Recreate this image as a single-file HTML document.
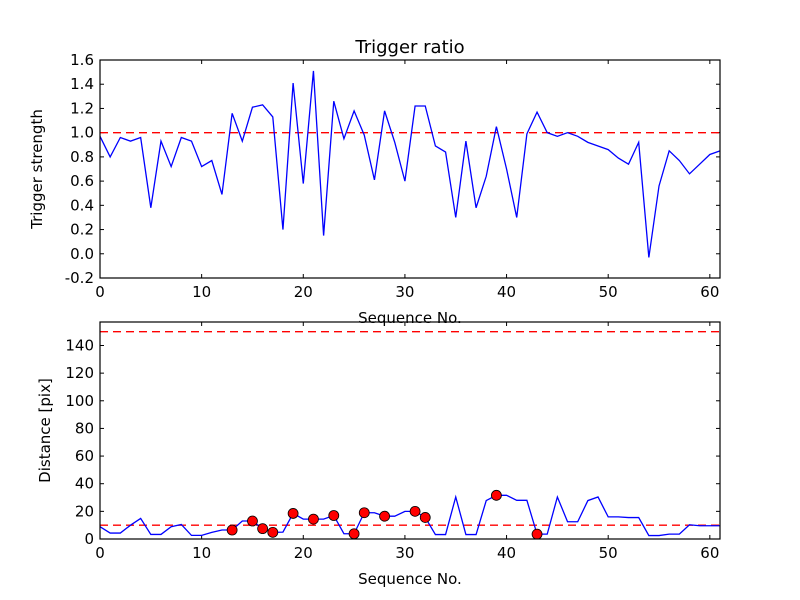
<!DOCTYPE html>
<html><head><meta charset="utf-8"><style>
body{margin:0;background:#fff;}
svg{display:block;font-family:"DejaVu Sans","Liberation Sans",sans-serif;}
</style></head><body>
<svg id="chart" width="800" height="600" xmlns="http://www.w3.org/2000/svg">
<rect width="800" height="600" fill="#fff"/>
<text x="410" y="53" font-size="18" text-anchor="middle">Trigger ratio</text>
</svg>
<script>
const ratioValues=[0.97,0.80,0.96,0.93,0.96,0.38,0.93,0.72,0.96,0.93,0.72,0.77,0.49,1.16,0.93,1.21,1.23,1.13,0.20,1.41,0.58,1.51,0.15,1.26,0.95,1.18,0.98,0.61,1.18,0.92,0.60,1.22,1.22,0.89,0.84,0.30,0.93,0.38,0.64,1.05,0.70,0.30,0.99,1.17,1.00,0.97,1.00,0.97,0.92,0.89,0.86,0.79,0.74,0.92,-0.03,0.56,0.85,0.77,0.66,0.74,0.82,0.85];
const distValues=[8.9,4.3,4.3,10,14.9,3.3,3.3,8.9,10.5,2.6,2.6,4.8,6.5,6.5,13,13,7.5,4.8,5,18.5,14.4,14.4,14.4,17,3.8,3.8,19,19,16.5,16.5,20,20,15.6,3.2,3.2,30.4,3.2,3.2,27.8,31.6,31.6,28,28,3.5,3.5,30.4,12.5,12.5,27.8,30.4,16,16,15.5,15.5,2.5,2.5,3.5,3.5,10.3,9.6,9.6,9.6];
const markerIdx=[13,15,16,17,19,21,23,25,26,28,31,32,39,43];
const xTicks=[0,10,20,30,40,50,60];
const topYTicks=[-0.2,0,0.2,0.4,0.6,0.8,1.0,1.2,1.4,1.6];
const botYTicks=[0,20,40,60,80,100,120,140];
const ratioThreshold=1.0;
const distThresholds=[10,150];

const svg=document.getElementById('chart');
const NS='http://www.w3.org/2000/svg';
function mk(tag,attrs,parent){const e=document.createElementNS(NS,tag);for(const k in attrs)e.setAttribute(k,attrs[k]);(parent||svg).appendChild(e);return e;}

function panel(name,top,bottom,ymin,ymax,yTicks,fmt,ylabel,ylabelX,xlabelY){
  const L=100,R=720;
  const sx=v=>L+(v-0)/61*(R-L);
  const sy=v=>bottom-(v-ymin)/(ymax-ymin)*(bottom-top);
  const g=mk('g',{});
  
  
  xTicks.forEach(t=>{
    const x=sx(t);
    mk('line',{x1:x,x2:x,y1:bottom,y2:bottom-4,stroke:'#000'},g);
    mk('line',{x1:x,x2:x,y1:top,y2:top+4,stroke:'#000'},g);
    const tx=mk('text',{x:x,y:bottom+19,'font-size':'15','text-anchor':'middle'},g);
    tx.textContent=t;
    
    
  });
  yTicks.forEach(t=>{
    const y=sy(t);
    mk('line',{x1:L,x2:L+4,y1:y,y2:y,stroke:'#000'},g);
    mk('line',{x1:R,x2:R-4,y1:y,y2:y,stroke:'#000'},g);
    const tx=mk('text',{x:L-6,y:y+5,'font-size':'15','text-anchor':'end'},g);
    tx.textContent=fmt(t);
    
    
  });
  const xl=mk('text',{x:410,y:xlabelY,'font-size':'15','text-anchor':'middle'},g);
  xl.textContent='Sequence No.';
  
  
  const yl=mk('text',{x:ylabelX,y:(top+bottom)/2,'font-size':'15','text-anchor':'middle',transform:`rotate(-90 ${ylabelX} ${(top+bottom)/2})`},g);
  yl.textContent=ylabel;
  
  
  return {g,sx,sy,L,R,top,bottom};
}
function frame(p){
  const r=mk('rect',{x:p.L,y:p.top,width:p.R-p.L,height:p.bottom-p.top,fill:'none',stroke:'#000','stroke-width':1.2},p.g);
  
  
}
function hline(p,v){
  const l=mk('line',{x1:p.L,x2:p.R,y1:p.sy(v),y2:p.sy(v),stroke:'#ff0000','stroke-width':1.3,'stroke-dasharray':'8,5'},p.g);
  
  
}
function series(p,vals){
  const d=vals.map((v,i)=>(i?'L':'M')+p.sx(i).toFixed(2)+','+p.sy(v).toFixed(2)).join(' ');
  const path=mk('path',{d:d,fill:'none',stroke:'#0000ff','stroke-width':1.3},p.g);
  
  
}

const p1=panel('ratio',60,278,-0.2,1.6,topYTicks,t=>t.toFixed(1),'Trigger strength',42,323);
hline(p1,ratioThreshold);
series(p1,ratioValues);
frame(p1);

const p2=panel('distance',322,539,0,157,botYTicks,t=>String(t),'Distance [pix]',50,584);
distThresholds.forEach(v=>hline(p2,v));
series(p2,distValues);
markerIdx.forEach(i=>{
  const c=mk('circle',{cx:p2.sx(i),cy:p2.sy(distValues[i]),r:5,fill:'#ff0000',stroke:'#000','stroke-width':0.8},p2.g);
  
  
});
frame(p2);
</script>
</body></html>
